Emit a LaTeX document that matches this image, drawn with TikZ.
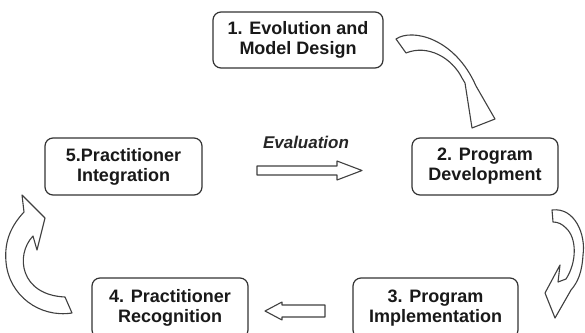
\documentclass[tikz,border=0pt]{standalone}
\usepackage{fontspec}
\setmainfont{Liberation Sans}
\begin{document}
\begin{tikzpicture}[x=1pt,y=-1pt,
  stagebox/.style={draw=black!80, line width=1.2pt, rounded corners=8pt, fill=white,
    align=center, inner sep=0pt, text=black!90,
    font=\fontsize{18}{20}\selectfont\bfseries},
  blockarrow/.style={draw=black!75, line width=1.1pt, fill=white, line join=round}]
\clip (0,0) rectangle (585,332);
\fill[white] (0,0) rectangle (585,332);

\node[stagebox, minimum width=170pt, minimum height=56pt] (s1) at (298,40) {1. Evolution and\\Model Design};
\node[stagebox, minimum width=146pt, minimum height=57pt] (s2) at (485,166.5) {2. Program\\Development};
\node[stagebox, minimum width=165pt, minimum height=60pt] (s3) at (435.5,308) {3. Program\\Implementation};
\node[stagebox, minimum width=156pt, minimum height=60pt] (s4) at (170,308) {4. Practitioner\\Recognition};
\node[stagebox, minimum width=157pt, minimum height=57pt] (s5) at (123.5,166.5) {5.Practitioner\\Integration};

\node[font=\fontsize{17}{20}\selectfont\bfseries\itshape, text=black!85] (ev) at (306,142) {Evaluation};

% Evaluation arrow (5 -> 2)
\draw[blockarrow] (257,166) -- (337,166) -- (337,161) -- (362,170.5) -- (337,180) -- (337,175) -- (257,175) -- cycle;

% arrow 3 -> 4
\draw[blockarrow] (325,305) -- (282,305) -- (282,302) -- (265,311) -- (282,320) -- (282,317) -- (325,317) -- cycle;

% curved arrow 1 -> 2
\draw[blockarrow] (396,39) .. controls (412,28) and (455,38) .. (476,86)
  -- (495,119) -- (472,128) -- (465,83) -- (462,78)
  .. controls (452,58) and (428,44) .. (406,53) -- cycle;

% curved arrow 2 -> 3
\draw[blockarrow] (552,210) .. controls (575,207) and (586,235) .. (583,255)
  .. controls (582,272) and (578,282) .. (571,290) -- (555,318) -- (545,293)
  -- (560,265) -- (558,282) -- (566,279)
  .. controls (577,262) and (577,238) .. (566,228)
  .. controls (562,224) and (558,222) .. (553,222) -- cycle;

% curved arrow 4 -> 5
\draw[blockarrow] (72,313) .. controls (40,318) and (9,296) .. (6,262)
  .. controls (4,240) and (12,225) .. (24,212) -- (22,195) -- (45,218)
  -- (37,250) -- (33,236)
  .. controls (15,255) and (20,295) .. (65,297) -- cycle;
\end{tikzpicture}
\end{document}
